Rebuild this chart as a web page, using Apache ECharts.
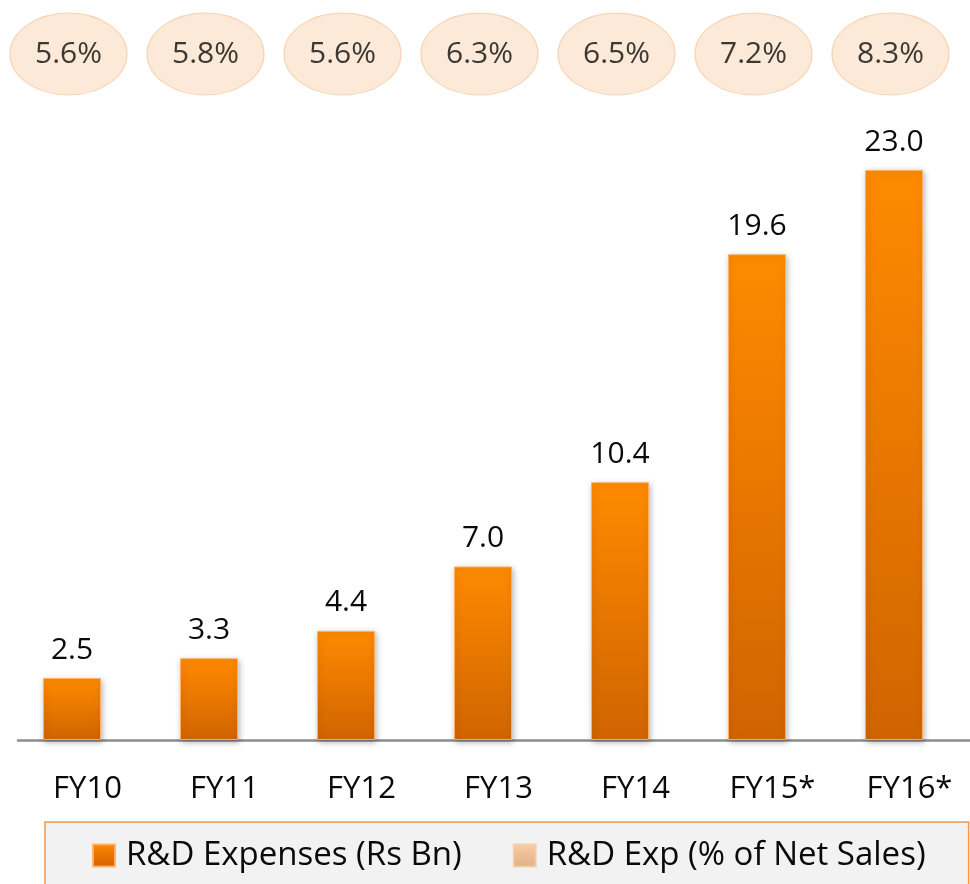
<!DOCTYPE html>
<html>
<head>
<meta charset="utf-8">
<style>
  html, body { margin: 0; padding: 0; background: #ffffff; }
  #chart { width: 970px; height: 884px; }
</style>
<script src="https://cdn.jsdelivr.net/npm/echarts@6/dist/echarts.min.js"></script>
</head>
<body>
<div id="chart"></div>
<script>
// Fiscal years and R&D figures
var categories = ['FY10', 'FY11', 'FY12', 'FY13', 'FY14', 'FY15*', 'FY16*'];
var rdExpenses = [2.5, 3.3, 4.4, 7.0, 10.4, 19.6, 23.0];          // Rs Bn
var rdPctOfSales = [5.6, 5.8, 5.6, 6.3, 6.5, 7.2, 8.3];           // % of net sales

var seriesNames = ['R&D Expenses (Rs Bn)', 'R&D Exp (% of Net Sales)'];

var FONT = '"Open Sans", "Noto Sans", sans-serif';

function vGrad(top, bottom) {
  return new echarts.graphic.LinearGradient(0, 0, 0, 1, [
    { offset: 0, color: top },
    { offset: 1, color: bottom }
  ]);
}

var chart = echarts.init(document.getElementById('chart'), null, { renderer: 'canvas' });

chart.setOption({
  backgroundColor: '#ffffff',
  animation: false,
  textStyle: { fontFamily: FONT },
  legend: {
    left: 45,
    top: 822,
    padding: [17, 43, 30, 47],
    itemGap: 51,
    itemWidth: 22,
    itemHeight: 22,
    backgroundColor: '#F2F2F2',
    borderColor: '#F79646',
    borderWidth: 1.5,
    textStyle: { fontFamily: FONT, fontSize: 33, color: '#0a0a0a', padding: [0, 0, 0, 6] },
    data: [
      { name: seriesNames[0], icon: 'rect', itemStyle: { color: vGrad('#FF8A00', '#D36000') } },
      { name: seriesNames[1], icon: 'rect', itemStyle: { color: vGrad('#FFC390', '#D9A06E') } }
    ]
  },
  grid: [
    // bars
    { left: 3.5, width: 959, top: 120.4, bottom: 884 - 740 },
    // percentage bubbles
    { left: -9, width: 968, top: 13, height: 82 },
    // baseline rule
    { left: 18, right: 0, top: 120.4, bottom: 884 - 740 }
  ],
  xAxis: [
    {
      type: 'category', gridIndex: 0, data: categories,
      axisLine: { show: false }, axisTick: { show: false },
      axisLabel: { margin: 34, padding: [0, 0, 0, 31], fontFamily: FONT, fontSize: 31, color: '#0a0a0a' }
    },
    {
      type: 'category', gridIndex: 1, data: categories, show: false
    },
    {
      type: 'value', gridIndex: 2, min: 0, max: 1,
      axisLine: { show: true, lineStyle: { color: '#8C8C8C', width: 2.5 } },
      axisTick: { show: false }, axisLabel: { show: false }, splitLine: { show: false }
    }
  ],
  yAxis: [
    { type: 'value', gridIndex: 0, min: 0, max: 25, show: false, splitLine: { show: false } },
    { type: 'category', gridIndex: 1, data: ['pct'], show: false },
    { type: 'value', gridIndex: 2, min: 0, max: 1, show: false, splitLine: { show: false } }
  ],
  series: [
    {
      name: seriesNames[0],
      type: 'bar',
      xAxisIndex: 0, yAxisIndex: 0,
      data: rdExpenses,
      barWidth: 58,
      itemStyle: {
        color: vGrad('#FF8A00', '#D06400'),
        borderColor: 'rgba(255,175,100,0.9)',
        borderWidth: 1,
        shadowBlur: 6,
        shadowColor: 'rgba(0,0,0,0.28)',
        shadowOffsetX: 1,
        shadowOffsetY: 2
      },
      label: {
        show: true,
        position: 'top',
        distance: 13,
        fontFamily: FONT,
        fontSize: 30,
        color: '#0a0a0a',
        formatter: function (p) { return p.value.toFixed(1); }
      },
      z: 3
    },
    {
      name: seriesNames[1],
      type: 'scatter',
      xAxisIndex: 1, yAxisIndex: 1,
      data: rdPctOfSales.map(function (v, i) { return { value: [i, 0], pct: v }; }),
      symbol: 'circle',
      symbolSize: [117, 82],
      itemStyle: { color: '#FBE4CD', borderColor: '#F5C9A2', borderWidth: 1 },
      label: {
        show: true,
        position: 'inside',
        fontFamily: FONT,
        fontSize: 30,
        color: '#0a0a0a',
        formatter: function (p) { return p.data.pct.toFixed(1) + '%'; }
      }
    }
  ]
});
</script>
</body>
</html>
